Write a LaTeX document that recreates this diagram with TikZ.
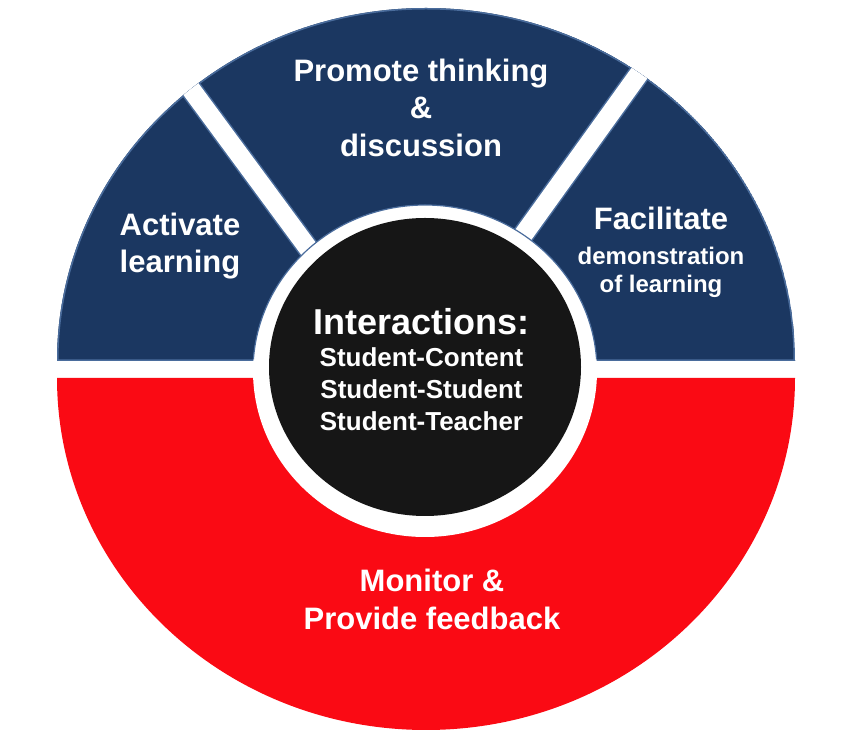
\documentclass[tikz,border=0pt]{standalone}
\usepackage{fontspec}
\setmainfont{Liberation Sans}
\usepackage{tikz}
\definecolor{navy}{RGB}{27,55,97}
\definecolor{navyedge}{RGB}{74,108,156}
\definecolor{ringred}{RGB}{250,10,20}
\definecolor{hub}{RGB}{22,22,22}
\tikzset{
  seglabel/.style={text=white, align=center, inner sep=0pt, font=\bfseries\fontsize{31}{37.5}\selectfont},
  hublabel/.style={text=white, align=center, inner sep=0pt, font=\bfseries\fontsize{26}{32}\selectfont},
  gap/.style={line width=19pt, white}
}

\begin{document}
\begin{tikzpicture}[x=1pt,y=1pt]
\useasboundingbox (0,0) rectangle (855,739);
% lower half
\fill[ringred] (57,361) arc[start angle=180, end angle=360, x radius=369, y radius=352] -- cycle;
% upper half, cut in three
\begin{scope}
\clip (57,378) arc[start angle=180, end angle=0, x radius=369, y radius=353] -- cycle;
\fill[navy] (57,378) arc[start angle=180, end angle=0, x radius=369, y radius=353] -- cycle;
\draw[navyedge, line width=3pt] (57,378) arc[start angle=180, end angle=0, x radius=369, y radius=353] -- cycle;
\draw[navyedge, line width=22pt] (168,681) -- (350,434);
\draw[navyedge, line width=22pt] (659,693) -- (480,444);
\draw[gap] (168,681) -- (350,434);
\draw[gap] (659,693) -- (480,444);
\end{scope}
% hub
\fill[white] (425,368) ellipse[x radius=172, y radius=166];
\draw[navyedge, line width=1.2pt] (425,368) ++(4:172 and 166) arc[start angle=4, end angle=176, x radius=172, y radius=166];
\fill[hub] (425,372) ellipse[x radius=156, y radius=149];

\node[seglabel] (promote) at (421,631.5) {Promote thinking\\\&\\discussion};
\node[seglabel] (activate) at (180,493) {Activate\\learning};
\node[seglabel] (facilitate) at (661,487) {Facilitate\\[-2.5pt]{\fontsize{24}{28}\selectfont demonstration}\\[-9.5pt]{\fontsize{24}{28}\selectfont of learning}};
\node[hublabel] (interactions) at (421.5,369.5) {{\fontsize{36}{40}\selectfont Interactions:}\\Student-Content\\Student-Student\\Student-Teacher};
\node[seglabel] (monitor) at (432,139.5) {Monitor \&\\Provide feedback};
\end{tikzpicture}
\end{document}
